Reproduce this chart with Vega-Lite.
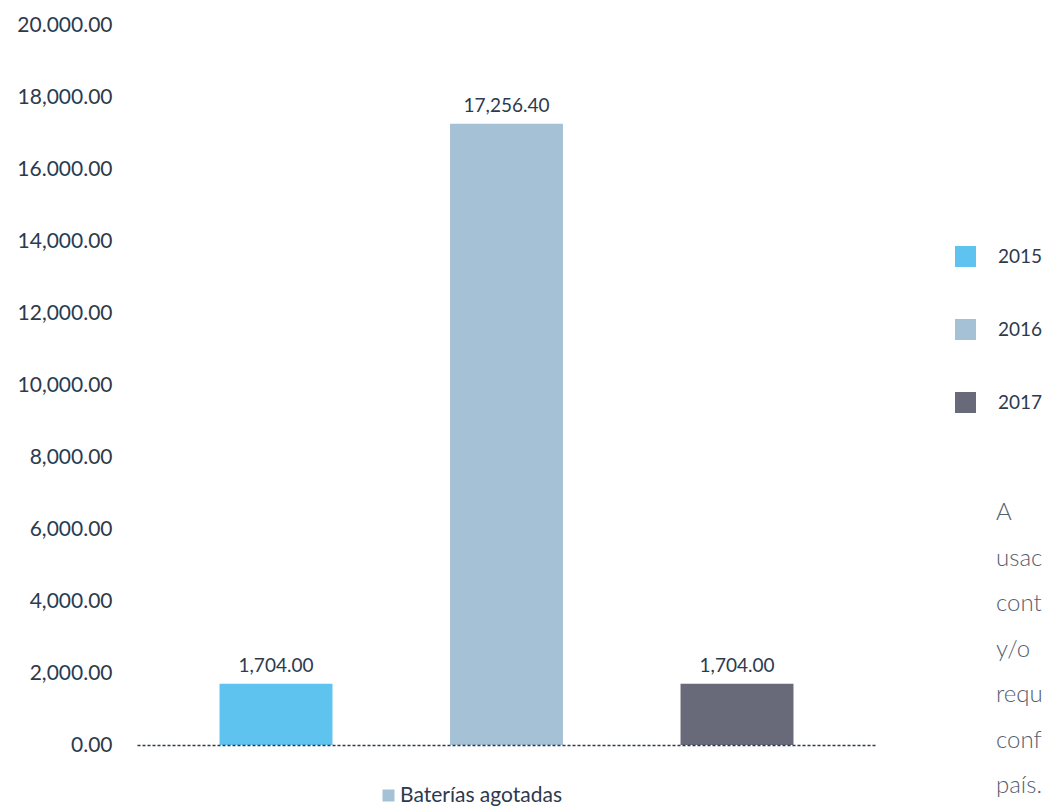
{
  "$schema": "https://vega.github.io/schema/vega-lite/v6.json",
  "autosize": {"type": "none"},
  "width": 739,
  "height": 720,
  "padding": {"left": 137, "top": 25, "right": 173, "bottom": 65},
  "background": "white",
  "config": {
    "view": {"stroke": null},
    "font": "Lato",
    "text": {"font": "Lato"}
  },
  "title": {
    "text": ["A", "usac", "cont", "y/o", "requ", "conf", "país."],
    "orient": "top",
    "anchor": "start",
    "frame": "group",
    "align": "left",
    "baseline": "bottom",
    "offset": 0,
    "dx": 859,
    "dy": 808,
    "lineHeight": 45.5,
    "font": "Lato",
    "fontSize": 24,
    "fontWeight": 300,
    "color": "#55606f"
  },
  "data": {
    "values": [
      {"year": "2015", "value": 1704.0, "serie": "Baterías agotadas"},
      {"year": "2016", "value": 17256.4, "serie": "Baterías agotadas"},
      {"year": "2017", "value": 1704.0, "serie": "Baterías agotadas"}
    ]
  },
  "encoding": {
    "x": {
      "field": "year",
      "type": "nominal",
      "scale": {"paddingInner": 0.51, "paddingOuter": 0.358},
      "axis": {
        "labels": false,
        "ticks": false,
        "title": null,
        "domain": true,
        "domainDash": [3, 2],
        "domainColor": "#2d3a4e",
        "domainWidth": 1.5,
        "zindex": 1
      }
    },
    "y": {
      "field": "value",
      "type": "quantitative",
      "scale": {"domain": [0, 20000], "nice": false},
      "axis": {
        "values": [0, 2000, 4000, 6000, 8000, 10000, 12000, 14000, 16000, 18000, 20000],
        "labelExpr": "datum.value == 20000 ? '20.000.00' : datum.value == 16000 ? '16.000.00' : format(datum.value, ',.2f')",
        "grid": false,
        "ticks": false,
        "domain": false,
        "title": null,
        "labelPadding": 25,
        "labelFont": "Lato",
        "labelFontSize": 21,
        "labelColor": "#2d3a4e",
        "labelBaseline": "middle"
      }
    }
  },
  "layer": [
    {
      "mark": {"type": "bar"},
      "encoding": {
        "color": {
          "field": "year",
          "type": "nominal",
          "scale": {"domain": ["2015", "2016", "2017"], "range": ["#5ec4ef", "#a5c1d6", "#686a7a"]},
          "legend": {
            "orient": "none",
            "legendX": 818,
            "legendY": 221,
            "title": null,
            "symbolType": "square",
            "symbolSize": 441,
            "symbolStrokeWidth": 0,
            "labelFont": "Lato",
            "labelFontSize": 19,
            "labelColor": "#2d3a4e",
            "labelOffset": 22,
            "rowPadding": 52
          }
        },
        "opacity": {
          "field": "serie",
          "type": "nominal",
          "scale": {"range": [1, 1]},
          "legend": {
            "orient": "none",
            "legendX": 241,
            "legendY": 760,
            "title": null,
            "symbolType": "square",
            "symbolSize": 144,
            "symbolStrokeWidth": 0,
            "symbolFillColor": "#a5c1d6",
            "labelFont": "Lato",
            "labelFontSize": 21,
            "labelColor": "#2d3a4e",
            "labelOffset": 1,
            "labelLimit": 400
          }
        }
      }
    },
    {
      "mark": {"type": "text", "baseline": "bottom", "dy": -8, "fontSize": 19, "font": "Lato", "color": "#2d3a4e"},
      "encoding": {
        "text": {"field": "value", "type": "quantitative", "format": ",.2f"}
      }
    }
  ]
}
